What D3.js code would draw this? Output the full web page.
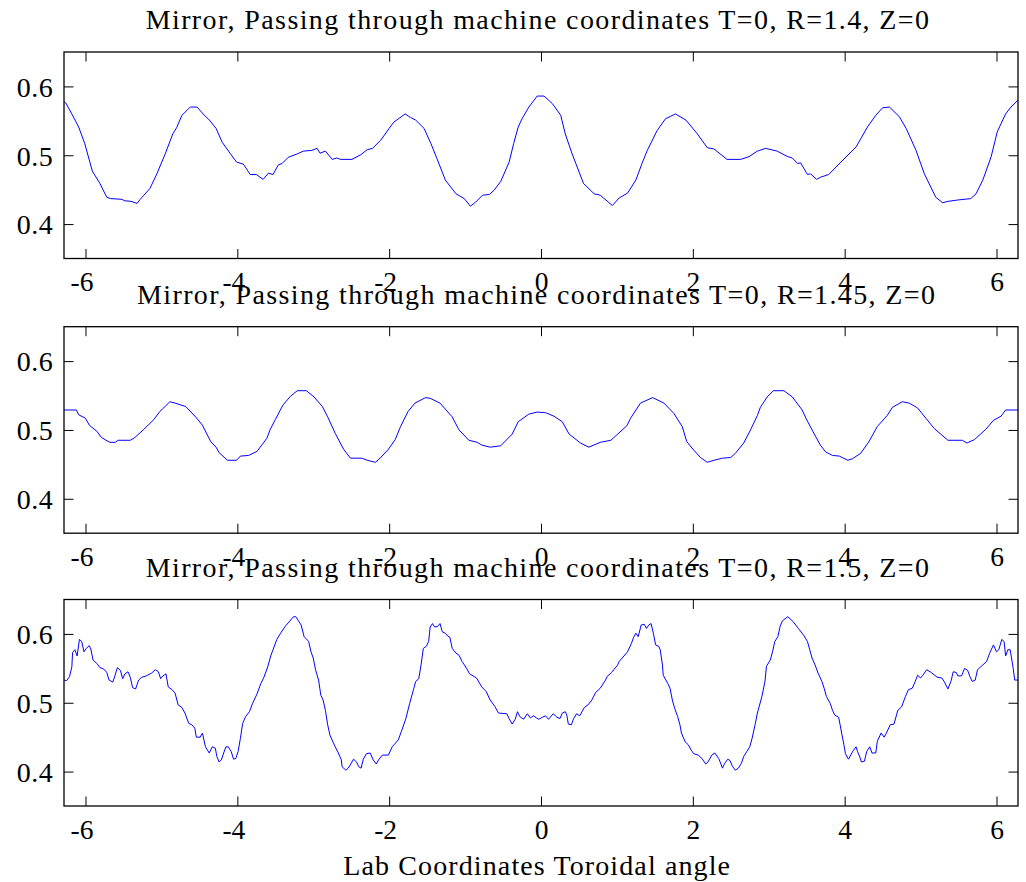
<!DOCTYPE html>
<html>
<head>
<meta charset="utf-8">
<script src="https://cdn.jsdelivr.net/npm/d3@7"></script>
<style>
  html, body { margin: 0; padding: 0; background: #fff; }
  svg { display: block; }
  text { font-family: "Liberation Serif", "Times New Roman", serif; fill: #000; }
</style>
</head>
<body>
<svg id="chart" width="1026" height="882"></svg>
<script>
// ---- data ----
const panelTitles = [
  "Mirror, Passing through machine coordinates  T=0, R=1.4, Z=0",
  "Mirror, Passing through machine coordinates  T=0, R=1.45, Z=0",
  "Mirror, Passing through machine coordinates  T=0, R=1.5, Z=0"
];
const xLabel = "Lab Coordinates  Toroidal angle";
const xTicks = [-6, -4, -2, 0, 2, 4, 6];
const xTickLabels = ["-6", "-4", "-2", "0", "2", "4", "6"];
const yTicks = [0.4, 0.5, 0.6];
const yTickLabels = ["0.4", "0.5", "0.6"];
const xDomain = [-2 * Math.PI, 2 * Math.PI];
const yDomain = [0.35, 0.65];

// [toroidal angle, value]
const seriesR140 = [
[-6.283,0.578],[-6.26,0.576],[-6.18,0.560],[-6.09,0.541],[-6.01,0.517],[-5.91,0.477],[-5.81,0.459],[-5.72,0.439],[-5.67,0.437],[-5.52,0.436],[-5.49,0.434],[-5.40,0.433],[-5.32,0.430],[-5.28,0.436],[-5.23,0.442],[-5.15,0.452],[-5.06,0.473],[-4.95,0.502],[-4.85,0.531],[-4.80,0.540],[-4.73,0.558],[-4.62,0.570],[-4.53,0.570],[-4.45,0.560],[-4.36,0.550],[-4.28,0.539],[-4.20,0.519],[-4.09,0.502],[-4.01,0.490],[-3.92,0.487],[-3.83,0.472],[-3.75,0.472],[-3.66,0.465],[-3.59,0.474],[-3.53,0.472],[-3.46,0.486],[-3.41,0.488],[-3.33,0.497],[-3.21,0.502],[-3.13,0.506],[-3.02,0.507],[-2.95,0.510],[-2.91,0.503],[-2.84,0.506],[-2.75,0.494],[-2.69,0.496],[-2.64,0.494],[-2.49,0.494],[-2.37,0.501],[-2.29,0.508],[-2.22,0.510],[-2.11,0.522],[-2.00,0.539],[-1.94,0.548],[-1.79,0.560],[-1.72,0.555],[-1.65,0.551],[-1.54,0.539],[-1.45,0.517],[-1.37,0.495],[-1.26,0.464],[-1.12,0.444],[-1.01,0.437],[-0.93,0.426],[-0.86,0.432],[-0.77,0.442],[-0.68,0.443],[-0.62,0.449],[-0.53,0.462],[-0.42,0.490],[-0.36,0.517],[-0.30,0.541],[-0.25,0.553],[-0.16,0.570],[-0.05,0.586],[0.04,0.586],[0.15,0.575],[0.26,0.558],[0.32,0.531],[0.41,0.502],[0.56,0.459],[0.70,0.444],[0.78,0.442],[0.94,0.427],[1.03,0.438],[1.14,0.445],[1.25,0.464],[1.33,0.488],[1.40,0.507],[1.53,0.536],[1.64,0.553],[1.77,0.560],[1.91,0.551],[2.06,0.531],[2.19,0.511],[2.28,0.509],[2.45,0.494],[2.63,0.494],[2.74,0.498],[2.85,0.506],[2.96,0.510],[3.11,0.506],[3.25,0.498],[3.31,0.496],[3.38,0.488],[3.42,0.489],[3.51,0.472],[3.55,0.473],[3.63,0.465],[3.68,0.468],[3.79,0.472],[3.95,0.490],[4.15,0.512],[4.30,0.541],[4.41,0.558],[4.50,0.569],[4.59,0.570],[4.72,0.556],[4.81,0.539],[4.94,0.507],[5.05,0.473],[5.20,0.439],[5.29,0.431],[5.36,0.433],[5.49,0.435],[5.66,0.437],[5.73,0.444],[5.82,0.464],[5.93,0.498],[6.01,0.534],[6.12,0.560],[6.19,0.570],[6.283,0.580]
];

const seriesR145 = [
[-6.283,0.529],[-6.12,0.529],[-6.09,0.522],[-6.00,0.517],[-5.95,0.507],[-5.85,0.498],[-5.79,0.489],[-5.68,0.482],[-5.61,0.482],[-5.57,0.485],[-5.41,0.485],[-5.35,0.489],[-5.24,0.500],[-5.10,0.515],[-5.02,0.527],[-4.97,0.532],[-4.89,0.541],[-4.82,0.539],[-4.68,0.534],[-4.55,0.519],[-4.46,0.507],[-4.35,0.483],[-4.28,0.475],[-4.24,0.467],[-4.13,0.456],[-4.01,0.456],[-3.96,0.462],[-3.85,0.463],[-3.74,0.469],[-3.61,0.488],[-3.57,0.500],[-3.50,0.515],[-3.40,0.536],[-3.30,0.549],[-3.21,0.557],[-3.09,0.557],[-2.99,0.548],[-2.88,0.534],[-2.81,0.519],[-2.71,0.495],[-2.60,0.472],[-2.51,0.459],[-2.36,0.459],[-2.29,0.456],[-2.18,0.453],[-2.12,0.459],[-2.01,0.472],[-1.92,0.486],[-1.85,0.505],[-1.75,0.527],[-1.66,0.539],[-1.52,0.547],[-1.46,0.546],[-1.33,0.539],[-1.17,0.519],[-1.08,0.500],[-0.95,0.485],[-0.84,0.482],[-0.78,0.478],[-0.67,0.475],[-0.53,0.477],[-0.38,0.494],[-0.30,0.512],[-0.16,0.523],[-0.05,0.526],[0.06,0.525],[0.17,0.520],[0.28,0.512],[0.37,0.494],[0.52,0.481],[0.63,0.475],[0.78,0.482],[0.92,0.485],[1.13,0.506],[1.18,0.517],[1.31,0.539],[1.47,0.547],[1.62,0.539],[1.75,0.524],[1.86,0.505],[1.92,0.483],[2.01,0.471],[2.10,0.460],[2.19,0.453],[2.28,0.456],[2.39,0.459],[2.50,0.460],[2.56,0.466],[2.67,0.481],[2.76,0.500],[2.85,0.521],[2.89,0.533],[2.98,0.548],[3.06,0.557],[3.20,0.557],[3.31,0.548],[3.44,0.529],[3.49,0.517],[3.58,0.498],[3.68,0.478],[3.75,0.468],[3.84,0.463],[3.93,0.462],[4.04,0.456],[4.10,0.458],[4.21,0.466],[4.32,0.483],[4.43,0.505],[4.56,0.521],[4.63,0.533],[4.76,0.541],[4.85,0.539],[4.96,0.532],[5.07,0.517],[5.18,0.502],[5.36,0.485],[5.55,0.485],[5.61,0.481],[5.71,0.486],[5.86,0.501],[5.96,0.514],[6.06,0.520],[6.12,0.529],[6.283,0.529]
];

const seriesR150 = [
[-6.283,0.533],[-6.25,0.532],[-6.21,0.538],[-6.18,0.552],[-6.17,0.573],[-6.14,0.577],[-6.11,0.568],[-6.08,0.592],[-6.05,0.589],[-6.02,0.574],[-5.99,0.579],[-5.95,0.583],[-5.93,0.578],[-5.90,0.562],[-5.85,0.557],[-5.81,0.551],[-5.76,0.549],[-5.72,0.544],[-5.69,0.533],[-5.64,0.530],[-5.61,0.540],[-5.58,0.551],[-5.54,0.547],[-5.51,0.535],[-5.48,0.542],[-5.44,0.545],[-5.41,0.537],[-5.38,0.522],[-5.34,0.520],[-5.30,0.533],[-5.26,0.537],[-5.20,0.539],[-5.13,0.543],[-5.08,0.548],[-5.04,0.545],[-5.01,0.535],[-4.98,0.539],[-4.94,0.542],[-4.91,0.523],[-4.86,0.519],[-4.82,0.514],[-4.78,0.497],[-4.73,0.493],[-4.69,0.485],[-4.64,0.470],[-4.60,0.468],[-4.56,0.463],[-4.54,0.450],[-4.49,0.450],[-4.46,0.456],[-4.42,0.436],[-4.37,0.427],[-4.33,0.436],[-4.29,0.434],[-4.27,0.422],[-4.24,0.414],[-4.21,0.417],[-4.18,0.427],[-4.15,0.436],[-4.12,0.436],[-4.08,0.429],[-4.05,0.418],[-4.02,0.419],[-3.99,0.429],[-3.96,0.448],[-3.93,0.470],[-3.89,0.480],[-3.84,0.487],[-3.80,0.499],[-3.74,0.513],[-3.69,0.528],[-3.65,0.537],[-3.60,0.552],[-3.56,0.568],[-3.53,0.577],[-3.48,0.592],[-3.43,0.601],[-3.37,0.611],[-3.33,0.616],[-3.26,0.625],[-3.23,0.625],[-3.20,0.620],[-3.16,0.613],[-3.12,0.596],[-3.06,0.589],[-3.03,0.574],[-3.00,0.565],[-2.97,0.548],[-2.93,0.533],[-2.90,0.511],[-2.87,0.504],[-2.84,0.489],[-2.81,0.468],[-2.78,0.453],[-2.74,0.443],[-2.71,0.436],[-2.67,0.427],[-2.63,0.417],[-2.62,0.407],[-2.57,0.402],[-2.54,0.405],[-2.50,0.412],[-2.47,0.418],[-2.43,0.414],[-2.40,0.407],[-2.37,0.405],[-2.34,0.418],[-2.30,0.426],[-2.25,0.427],[-2.21,0.417],[-2.17,0.411],[-2.14,0.417],[-2.09,0.424],[-2.01,0.424],[-1.96,0.436],[-1.88,0.446],[-1.84,0.458],[-1.78,0.477],[-1.73,0.499],[-1.68,0.519],[-1.65,0.531],[-1.61,0.535],[-1.58,0.555],[-1.55,0.579],[-1.51,0.582],[-1.48,0.589],[-1.46,0.610],[-1.43,0.615],[-1.40,0.610],[-1.36,0.611],[-1.33,0.615],[-1.30,0.603],[-1.26,0.601],[-1.23,0.597],[-1.20,0.595],[-1.17,0.579],[-1.12,0.572],[-1.08,0.569],[-1.04,0.560],[-0.98,0.550],[-0.94,0.542],[-0.85,0.536],[-0.78,0.523],[-0.72,0.516],[-0.67,0.504],[-0.61,0.495],[-0.56,0.485],[-0.45,0.484],[-0.42,0.477],[-0.38,0.469],[-0.34,0.476],[-0.31,0.487],[-0.28,0.480],[-0.23,0.476],[-0.18,0.484],[-0.14,0.478],[-0.10,0.481],[-0.06,0.478],[-0.03,0.476],[0.02,0.479],[0.06,0.481],[0.10,0.476],[0.16,0.484],[0.21,0.479],[0.25,0.477],[0.28,0.485],[0.32,0.487],[0.34,0.482],[0.36,0.469],[0.40,0.468],[0.43,0.477],[0.47,0.484],[0.51,0.481],[0.57,0.493],[0.62,0.497],[0.67,0.504],[0.72,0.515],[0.78,0.521],[0.85,0.533],[0.87,0.538],[0.93,0.544],[1.01,0.555],[1.03,0.560],[1.07,0.565],[1.14,0.574],[1.19,0.586],[1.22,0.595],[1.25,0.601],[1.28,0.596],[1.32,0.613],[1.36,0.614],[1.39,0.608],[1.42,0.613],[1.45,0.615],[1.48,0.601],[1.51,0.584],[1.55,0.582],[1.57,0.577],[1.60,0.555],[1.61,0.540],[1.67,0.528],[1.70,0.521],[1.73,0.504],[1.76,0.492],[1.80,0.480],[1.83,0.468],[1.85,0.456],[1.90,0.443],[1.94,0.439],[1.98,0.431],[2.01,0.426],[2.07,0.424],[2.12,0.419],[2.17,0.411],[2.20,0.414],[2.25,0.424],[2.29,0.427],[2.34,0.419],[2.36,0.414],[2.39,0.405],[2.42,0.412],[2.46,0.418],[2.49,0.416],[2.52,0.408],[2.56,0.402],[2.60,0.405],[2.64,0.412],[2.67,0.422],[2.71,0.429],[2.75,0.436],[2.78,0.448],[2.82,0.468],[2.85,0.485],[2.91,0.509],[2.95,0.531],[2.97,0.553],[3.02,0.562],[3.05,0.574],[3.08,0.589],[3.12,0.596],[3.15,0.611],[3.18,0.619],[3.25,0.625],[3.32,0.618],[3.39,0.608],[3.46,0.598],[3.51,0.589],[3.54,0.577],[3.57,0.565],[3.61,0.555],[3.65,0.543],[3.70,0.531],[3.73,0.521],[3.76,0.509],[3.81,0.499],[3.84,0.489],[3.87,0.482],[3.92,0.479],[3.94,0.468],[3.96,0.456],[3.99,0.439],[4.01,0.426],[4.05,0.418],[4.08,0.424],[4.11,0.430],[4.15,0.436],[4.17,0.429],[4.20,0.421],[4.22,0.414],[4.26,0.415],[4.29,0.429],[4.33,0.436],[4.36,0.427],[4.41,0.427],[4.43,0.444],[4.48,0.456],[4.52,0.450],[4.55,0.456],[4.60,0.468],[4.65,0.469],[4.70,0.489],[4.75,0.494],[4.80,0.509],[4.84,0.519],[4.89,0.521],[4.93,0.531],[4.96,0.540],[5.00,0.536],[5.03,0.540],[5.08,0.548],[5.14,0.544],[5.22,0.537],[5.28,0.536],[5.31,0.531],[5.36,0.520],[5.40,0.531],[5.43,0.545],[5.47,0.544],[5.49,0.539],[5.54,0.539],[5.58,0.550],[5.62,0.547],[5.65,0.538],[5.68,0.531],[5.72,0.533],[5.75,0.548],[5.80,0.553],[5.87,0.560],[5.91,0.572],[5.96,0.584],[6.00,0.574],[6.03,0.577],[6.07,0.592],[6.10,0.589],[6.12,0.568],[6.15,0.577],[6.18,0.577],[6.22,0.550],[6.24,0.533],[6.283,0.533]
];

const panelSeries = [seriesR140, seriesR145, seriesR150];

// ---- layout ----
const W = 1026, H = 882;
const plotLeft = 64, plotRight = 1018;
const panelTops = [52, 326.7, 599.5];
const panelHeight = 206.5;
const titleSpans = [[145.7, 929], [137, 935], [145.7, 929]];
const titleSize = 28;
const tickSize = 27.5;
const tickLen = 9.5;

const svg = d3.select("#chart");
const x = d3.scaleLinear().domain(xDomain).range([plotLeft, plotRight]);

panelSeries.forEach((series, i) => {
  const top = panelTops[i];
  const bottom = top + panelHeight;
  const y = d3.scaleLinear().domain(yDomain).range([bottom, top]);
  const g = svg.append("g");

  // clip
  const clipId = "clip" + i;
  svg.append("clipPath").attr("id", clipId)
    .append("rect").attr("x", plotLeft).attr("y", top)
    .attr("width", plotRight - plotLeft).attr("height", panelHeight);

  // data line
  const line = d3.line().x(d => x(d[0])).y(d => y(d[1]));
  g.append("path")
    .datum(series)
    .attr("clip-path", `url(#${clipId})`)
    .attr("fill", "none")
    .attr("stroke", "#0000ff")
    .attr("stroke-width", 1)
    .attr("d", line);

  // axes
  const bottomAxis = g.append("g").attr("transform", `translate(0,${bottom})`)
    .call(d3.axisBottom(x).tickValues(xTicks).tickSize(-tickLen).tickPadding(0)
      .tickFormat((d, k) => xTickLabels[k]));
  bottomAxis.selectAll("text")
    .attr("y", 32.5).attr("dy", null)
    .attr("dx", d => d < 0 ? -4 : 0)
    .style("font-size", tickSize + "px")
    .style("font-family", '"Liberation Serif", serif');

  g.append("g").attr("transform", `translate(0,${top})`)
    .call(d3.axisTop(x).tickValues(xTicks).tickSize(-tickLen).tickFormat(""));

  const leftAxis = g.append("g").attr("transform", `translate(${plotLeft},0)`)
    .call(d3.axisLeft(y).tickValues(yTicks).tickSize(-tickLen).tickPadding(10.7)
      .tickFormat((d, k) => yTickLabels[k]));
  leftAxis.selectAll("text")
    .attr("dy", "0.35em")
    .style("font-size", (tickSize + 0.5) + "px")
    .style("letter-spacing", "0.5px")
    .style("font-family", '"Liberation Serif", serif');

  g.append("g").attr("transform", `translate(${plotRight},0)`)
    .call(d3.axisRight(y).tickValues(yTicks).tickSize(-tickLen).tickFormat(""));

  g.selectAll(".domain").remove();
  g.selectAll(".tick line").attr("stroke", "#000").attr("stroke-width", 1);

  // box
  g.append("rect")
    .attr("x", plotLeft).attr("y", top)
    .attr("width", plotRight - plotLeft).attr("height", panelHeight)
    .attr("fill", "none").attr("stroke", "#000").attr("stroke-width", 1.3);

  // title
  const span = titleSpans[i];
  g.append("text")
    .attr("x", span[0]).attr("y", top - 23)
    .attr("textLength", span[1] - span[0])
    .attr("lengthAdjust", "spacing")
    .style("font-size", titleSize + "px")
    .text(panelTitles[i]);
});

// x axis label
svg.append("text")
  .attr("x", 343.3).attr("y", 875)
  .attr("textLength", 730 - 343.3)
  .attr("lengthAdjust", "spacing")
  .style("font-size", titleSize + "px")
  .text(xLabel);
</script>
</body>
</html>
